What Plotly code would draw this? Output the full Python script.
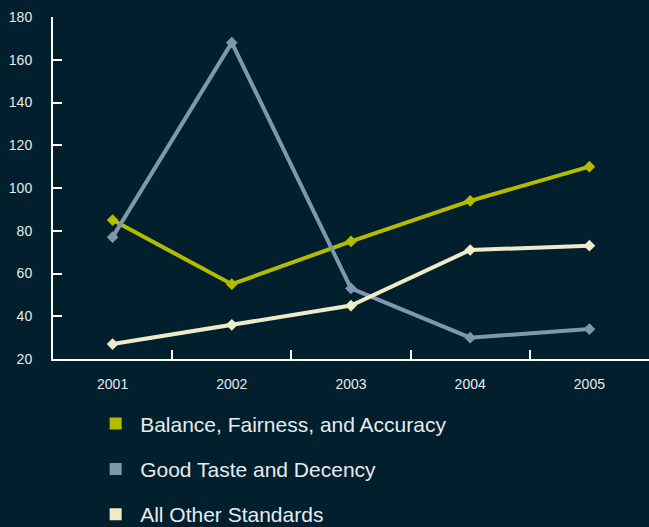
import plotly.graph_objects as go

years = ["2001", "2002", "2003", "2004", "2005"]
balance = [85, 55, 75, 94, 110]
taste = [77, 168, 53, 30, 34]
other = [27, 36, 45, 71, 73]
names = ["Balance, Fairness, and Accuracy", "Good Taste and Decency", "All Other Standards"]
colors = ["#b5bc00", "#7f97ae", "#efebc8"]
series = [balance, taste, other]

fig = go.Figure()
for vals, name, col in zip(series, names, colors):
    fig.add_trace(go.Scatter(
        x=years, y=vals, mode="lines+markers", name=name, showlegend=False,
        line=dict(color=col, width=4),
        marker=dict(symbol="diamond", size=9, color=col),
    ))
for i, (name, col) in enumerate(zip(names, colors)):
    fig.add_trace(go.Scatter(
        x=[None], y=[None], mode="markers", name=name, legendgroup=str(i),
        marker=dict(symbol="square", size=14, color=col),
    ))

fig.update_layout(
    width=649, height=527,
    margin=dict(l=53, r=0, t=17, b=168, autoexpand=False),
    paper_bgcolor="#011f2d", plot_bgcolor="#011f2d",
    font=dict(family="Liberation Sans, Arial, sans-serif", color="#e6ebee"),
    showlegend=True,
    legend=dict(
        x=0.064, y=-0.13, xanchor="left", yanchor="top",
        orientation="v", traceorder="grouped", tracegroupgap=15,
        font=dict(size=21, color="#e6ebee"),
        bgcolor="rgba(0,0,0,0)", itemsizing="constant", itemwidth=39,
    ),
    xaxis=dict(
        type="category", range=[-0.5, 4.5], tickson="boundaries",
        ticks="inside", ticklen=9, tickwidth=2, tickcolor="white",
        showline=True, linecolor="white", linewidth=2,
        showgrid=False, zeroline=False,
        tickfont=dict(size=14, color="#e6ebee"), ticklabelstandoff=11,
    ),
    yaxis=dict(
        range=[20, 180], dtick=20, tick0=20,
        ticks="inside", ticklen=9, tickwidth=2, tickcolor="white",
        showline=True, linecolor="white", linewidth=2,
        showgrid=False, zeroline=False,
        tickfont=dict(size=14, color="#e6ebee"), ticklabelstandoff=16,
    ),
)

fig.write_html("out.html")
